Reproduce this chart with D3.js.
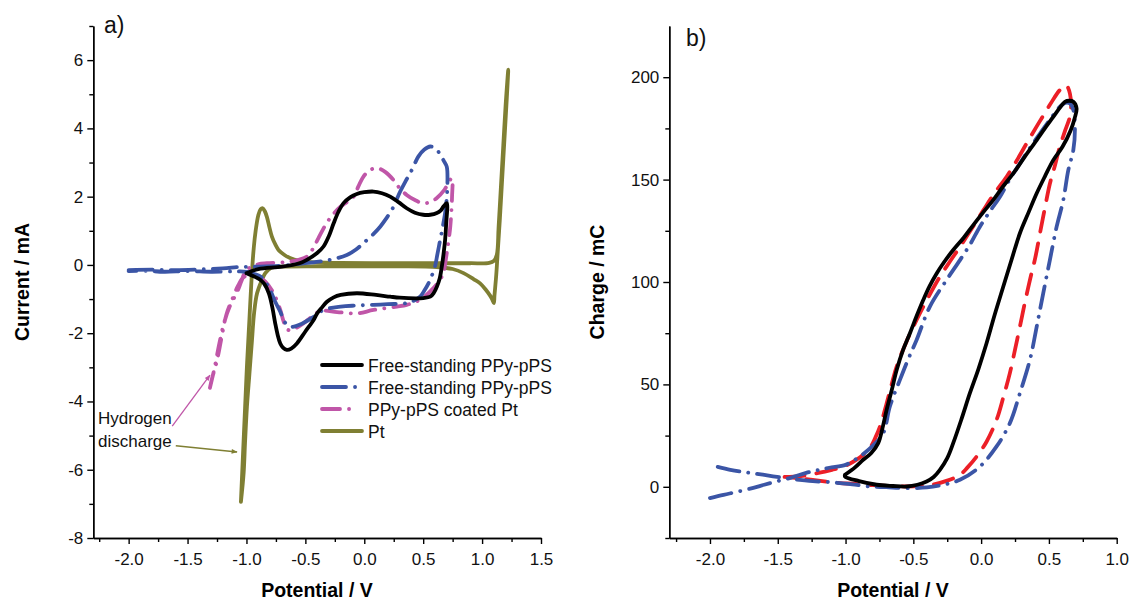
<!DOCTYPE html>
<html>
<head>
<meta charset="utf-8">
<script src="https://cdn.jsdelivr.net/npm/d3@7"></script>
<style>
  body { margin: 0; background: #fff; }
  svg { font-family: "Liberation Sans", Arial, sans-serif; }
  .axis path, .axis line { stroke: #000; stroke-width: 1.4; }
  .axis text { font-size: 17px; fill: #111; }
</style>
</head>
<body>
<svg id="chart" width="1131" height="600"></svg>
<script>
// ---- panel a) : cyclic voltammograms, [potential V, current mA] ----
const ptCurve = [
  [-1.047,-6.94],[-1.03,-5.6],[-1.012,-4.2],[-0.995,-2.9],[-0.975,-1.6],[-0.955,-0.3],[-0.938,0.5],
  [-0.922,1.0],[-0.9,1.45],[-0.88,1.63],[-0.862,1.66],[-0.845,1.58],[-0.826,1.4],[-0.805,1.1],
  [-0.784,0.83],[-0.755,0.6],[-0.728,0.44],[-0.68,0.3],[-0.63,0.2],[-0.55,0.12],[-0.45,0.08],
  [-0.2,0.06],[0.2,0.05],[0.6,0.05],[0.9,0.05],[1.06,0.06],[1.1,0.12],[1.125,0.3],[1.14,1.1],
  [1.16,2.3],[1.18,3.5],[1.2,4.7],[1.222,5.72],
  [1.21,4.9],[1.19,3.7],[1.17,2.5],[1.15,1.3],[1.135,0.5],[1.12,-0.3],[1.105,-0.9],[1.1,-1.12],
  [1.085,-1.0],[1.068,-0.9],[1.03,-0.72],[0.983,-0.54],[0.93,-0.42],[0.843,-0.24],[0.75,-0.12],
  [0.616,-0.06],[0.3,-0.04],[0.0,-0.04],[-0.4,-0.04],[-0.7,-0.05],[-0.79,-0.08],[-0.84,-0.24],
  [-0.87,-0.45],[-0.91,-0.83],[-0.935,-1.4],[-0.953,-2.2],[-0.975,-3.2],[-0.996,-4.16],
  [-1.012,-5.2],[-1.024,-6.1],[-1.047,-6.94]
];
const freeCurveA = [
  [-1.0,-0.24],[-0.9,-0.12],[-0.7,-0.05],[-0.55,0.05],[-0.487,0.15],[-0.4,0.35],[-0.346,0.54],
  [-0.3,0.85],[-0.26,1.22],[-0.22,1.55],[-0.176,1.81],[-0.12,1.98],[-0.063,2.08],[0.0,2.13],
  [0.078,2.15],[0.15,2.1],[0.22,2.0],[0.29,1.84],[0.36,1.66],[0.43,1.53],[0.5,1.47],[0.56,1.47],
  [0.616,1.52],[0.65,1.6],[0.672,1.71],[0.7,1.81],
  [0.695,1.2],[0.686,0.73],[0.672,0.3],[0.658,-0.05],[0.64,-0.4],[0.616,-0.64],[0.59,-0.82],
  [0.56,-0.93],[0.5,-0.97],[0.446,-0.98],[0.3,-0.96],[0.22,-0.93],[0.1,-0.88],[-0.063,-0.83],
  [-0.2,-0.88],[-0.26,-0.95],[-0.317,-1.08],[-0.36,-1.25],[-0.4,-1.42],[-0.43,-1.61],[-0.5,-1.95],
  [-0.572,-2.3],[-0.62,-2.45],[-0.657,-2.49],[-0.69,-2.42],[-0.713,-2.3],[-0.735,-2.05],
  [-0.756,-1.71],[-0.78,-1.25],[-0.81,-0.83],[-0.85,-0.55],[-0.88,-0.44],[-0.94,-0.33],[-1.0,-0.24]
];
const freeCurveB = [
  [-2.0,-0.15],[-1.8,-0.14],[-1.6,-0.15],[-1.4,-0.13],[-1.2,-0.1],[-1.05,-0.06],[-0.91,-0.05],
  [-0.7,-0.02],[-0.5,0.05],[-0.29,0.15],[-0.148,0.29],[-0.07,0.45],[-0.007,0.64],[0.07,0.88],
  [0.135,1.12],[0.19,1.38],[0.234,1.61],[0.27,1.88],[0.305,2.15],[0.35,2.45],[0.39,2.69],
  [0.43,2.98],[0.46,3.18],[0.51,3.38],[0.56,3.47],[0.61,3.4],[0.644,3.23],[0.675,3.05],
  [0.7,2.88],[0.706,2.4],
  [0.7,1.95],[0.686,1.52],[0.665,1.1],[0.644,0.73],[0.62,0.3],[0.6,-0.05],[0.575,-0.3],
  [0.545,-0.54],[0.51,-0.75],[0.474,-0.93],[0.42,-1.05],[0.36,-1.12],[0.2,-1.15],[0.078,-1.17],
  [-0.07,-1.19],[-0.2,-1.22],[-0.346,-1.32],[-0.43,-1.52],[-0.53,-1.72],[-0.63,-1.81],
  [-0.68,-1.65],[-0.713,-1.37],[-0.76,-1.05],[-0.8,-0.73],[-0.84,-0.5],[-0.88,-0.34],
  [-0.94,-0.26],[-0.996,-0.2],[-1.1,-0.19],[-1.3,-0.2],[-1.5,-0.18],[-1.7,-0.2],[-1.85,-0.17],
  [-2.0,-0.18]
];
const coatedPtCurve = [
  [-1.31,-3.6],[-1.27,-3.0],[-1.23,-2.3],[-1.19,-1.7],[-1.14,-1.2],[-1.08,-0.8],[-1.04,-0.45],
  [-1.0,-0.15],[-0.9,0.02],[-0.826,0.05],[-0.72,0.07],[-0.63,0.1],[-0.55,0.16],[-0.49,0.24],
  [-0.44,0.45],[-0.39,0.78],[-0.317,1.24],[-0.26,1.5],[-0.2,1.71],[-0.14,1.86],[-0.09,2.0],
  [-0.05,2.3],[-0.007,2.59],[0.05,2.78],[0.107,2.84],[0.18,2.72],[0.248,2.49],[0.3,2.25],
  [0.36,2.05],[0.43,1.9],[0.5,1.81],[0.56,1.84],[0.616,1.96],[0.68,2.2],[0.743,2.54],
  [0.745,2.0],[0.73,1.12],[0.715,0.7],[0.7,0.34],[0.685,0.0],[0.672,-0.24],[0.63,-0.5],
  [0.587,-0.68],[0.52,-0.9],[0.446,-1.07],[0.36,-1.17],[0.276,-1.22],[0.078,-1.32],
  [-0.063,-1.42],[-0.23,-1.38],[-0.37,-1.35],[-0.44,-1.5],[-0.515,-1.71],[-0.58,-1.85],
  [-0.643,-1.91],[-0.68,-1.7],[-0.713,-1.32],[-0.77,-0.83],[-0.84,-0.49],[-0.92,-0.3],
  [-1.02,-0.35],[-1.07,-0.6],[-1.12,-1.0],[-1.17,-1.45],[-1.21,-2.1],[-1.25,-2.8],[-1.29,-3.3],
  [-1.31,-3.6]
];

// ---- panel b) : charge curves, [potential V, charge mC] ----
const chargeBlack = [
  [-1.004,5.85],[-0.93,9.5],[-0.87,13.2],[-0.81,16.5],[-0.759,21.3],[-0.73,28],[-0.697,37.6],
  [-0.66,47],[-0.623,57],[-0.575,67],[-0.525,75],[-0.475,83.5],[-0.427,91.2],[-0.38,98],
  [-0.328,104.2],[-0.27,110],[-0.206,115.6],[-0.13,121.5],[-0.058,127.8],[0.015,134],[0.089,140],
  [0.16,146.5],[0.237,153],[0.32,161],[0.41,169.3],[0.47,175],[0.532,180.6],[0.58,185],
  [0.618,188],[0.65,188.5],[0.68,188],[0.704,184.7],[0.69,180],[0.66,174],[0.6,166],
  [0.532,159.5],[0.47,151.5],[0.41,143.3],[0.35,134],[0.286,123.8],[0.225,111],[0.163,97.7],
  [0.1,84],[0.04,70.1],[-0.02,57.5],[-0.083,45.7],[-0.145,33],[-0.206,21.3],[-0.25,14],
  [-0.304,8.3],[-0.35,4.8],[-0.402,2.6],[-0.47,1.0],[-0.55,0.15],[-0.65,0.4],[-0.77,1.0],
  [-0.9,2.8],[-1.004,5.0],[-1.004,5.85]
];
const chargeRed = [
  [-1.45,4.8],[-1.33,5.2],[-1.2,6.8],[-1.1,8.3],[-1.03,9.5],[-0.95,12],[-0.89,14.5],[-0.82,19],
  [-0.78,24],[-0.746,29.4],[-0.7,40],[-0.66,50],[-0.623,58.7],[-0.55,71],[-0.476,81.5],
  [-0.39,92.5],[-0.304,102.6],[-0.23,110],[-0.156,117.2],[-0.07,126],[0.016,135],[0.1,143.5],
  [0.188,151.4],[0.26,159],[0.336,167.7],[0.41,176],[0.483,183.9],[0.54,190],[0.58,193.7],
  [0.625,196.1],[0.655,192],[0.66,182.3],[0.62,174],[0.58,166],[0.545,157],[0.507,148],
  [0.47,136],[0.434,123.8],[0.4,112],[0.36,101],[0.323,90],[0.286,78.2],[0.25,67],[0.212,55.5],
  [0.165,44],[0.114,32.7],[0.04,22],[-0.033,14.8],[-0.1,9.5],[-0.156,5.85],[-0.25,3],
  [-0.35,1.2],[-0.5,0.2],[-0.65,0.3],[-0.8,0.8],[-0.95,1.5],[-1.04,1.8],[-1.2,3.0],
  [-1.35,4.2],[-1.45,4.8]
];
const chargeBlue = [
  [-2.0,-5.5],[-1.9,-3.9],[-1.79,-2.3],[-1.68,-0.5],[-1.6,1.0],[-1.51,2.6],[-1.4,4.5],
  [-1.29,6.8],[-1.2,8.2],[-1.12,9.3],[-1.0,10.7],[-0.95,12.5],[-0.894,14.8],[-0.8,20],
  [-0.722,26.2],[-0.673,39.2],[-0.599,52.2],[-0.54,62],[-0.476,71.7],[-0.378,88],[-0.255,101],
  [-0.156,110.7],[-0.08,118.5],[-0.009,127],[0.065,134.5],[0.139,141.6],[0.21,150],
  [0.286,157.9],[0.36,165.5],[0.434,172.5],[0.51,179.5],[0.58,185.5],[0.62,187.5],
  [0.655,187.2],[0.68,184],[0.692,175.8],[0.68,164.4],[0.643,154.6],[0.606,140],[0.557,127],
  [0.507,110.7],[0.458,94.5],[0.41,78.2],[0.36,62],[0.286,45.7],[0.212,31.1],[0.114,19.7],
  [-0.009,9.9],[-0.156,3.4],[-0.28,1.0],[-0.4,-0.3],[-0.55,-0.65],[-0.7,-0.2],[-0.82,0.15],
  [-0.95,1.2],[-1.04,1.8],[-1.12,2.3],[-1.22,2.6],[-1.34,3.4],[-1.46,4.4],[-1.61,5.9],
  [-1.73,7],[-1.85,8.3],[-2.0,10.7]
];

const legendLabels = ["Free-standing PPy-pPS", "Free-standing PPy-pPS", "PPy-pPS coated Pt", "Pt"];

const svg = d3.select("#chart");

function drawAxes(x, y, xMajor, xMinor, yMajor, yMinor, xFmt) {
  const h = y.range()[0], x0 = x.range()[0];
  svg.append("g").attr("class", "axis")
    .attr("transform", "translate(0," + h + ")")
    .call(d3.axisBottom(x).tickValues(xMinor).tickSize(4).tickFormat("").tickSizeOuter(0));
  svg.append("g").attr("class", "axis")
    .attr("transform", "translate(0," + h + ")")
    .call(d3.axisBottom(x).tickValues(xMajor).tickSize(6).tickPadding(9).tickFormat(xFmt).tickSizeOuter(0));
  svg.append("g").attr("class", "axis")
    .attr("transform", "translate(" + x0 + ",0)")
    .call(d3.axisLeft(y).tickValues(yMinor).tickSize(4).tickFormat("").tickSizeOuter(0));
  svg.append("g").attr("class", "axis")
    .attr("transform", "translate(" + x0 + ",0)")
    .call(d3.axisLeft(y).tickValues(yMajor).tickSize(6).tickPadding(4).tickFormat(d => d).tickSizeOuter(0));
}

function drawCurve(x, y, data, color, dash) {
  const line = d3.line()
    .x(d => x(d[0])).y(d => y(d[1]))
    .curve(d3.curveCatmullRom.alpha(0.5));
  svg.append("path")
    .datum(data)
    .attr("d", line)
    .attr("fill", "none")
    .attr("stroke", color)
    .attr("stroke-width", 3.8)
    .attr("stroke-linecap", "round")
    .attr("stroke-linejoin", "round")
    .attr("stroke-dasharray", dash || null);
}

const fmt1 = d => d.toFixed(1);
const blue = "#3b55a6", magenta = "#c056a8", olive = "#7f7f33", red = "#ec1f27";

// ---------------- panel a ----------------
const xa = d3.scaleLinear().domain([-2.3, 1.5]).range([93.3, 541]);
const ya = d3.scaleLinear().domain([-8, 7]).range([538, 26]);
drawAxes(xa, ya,
  d3.range(-2, 1.51, 0.5), d3.range(-2.25, 1.3, 0.5),
  d3.range(-8, 6.1, 2), d3.range(-7, 7.1, 2), fmt1);

drawCurve(xa, ya, ptCurve, olive);
drawCurve(xa, ya, coatedPtCurve, magenta, "16 9 0.1 9");
drawCurve(xa, ya, freeCurveB, blue, "24 9 0.1 9");
drawCurve(xa, ya, freeCurveA, "#000");

// legend
const legendY = d3.scaleLinear().domain([0, 3]).range([365, 431]);
const legendDash = [null, "24 9 0.1 9", "18 9 0.1 9", null];
const legendColor = ["#000", blue, magenta, olive];
legendLabels.forEach((t, i) => {
  svg.append("line")
    .attr("x1", 322).attr("x2", i === 1 ? 360 : (i === 2 ? 354 : 362))
    .attr("y1", legendY(i)).attr("y2", legendY(i))
    .attr("stroke", legendColor[i]).attr("stroke-width", 3.8)
    .attr("stroke-linecap", "round")
    .attr("stroke-dasharray", legendDash[i]);
  svg.append("text")
    .attr("x", 368).attr("y", legendY(i) + 6.5)
    .attr("font-size", 17.5).attr("fill", "#111")
    .text(t);
});

// annotation
svg.append("text").attr("x", 98).attr("y", 424).attr("font-size", 17).attr("fill", "#111").text("Hydrogen");
svg.append("text").attr("x", 98).attr("y", 447).attr("font-size", 17).attr("fill", "#111").text("discharge");
const defs = svg.append("defs");
[["arrM", magenta], ["arrO", olive]].forEach(([id, c]) => {
  defs.append("marker").attr("id", id).attr("viewBox", "0 0 10 10")
    .attr("refX", 9).attr("refY", 5).attr("markerWidth", 7).attr("markerHeight", 6)
    .attr("orient", "auto").attr("markerUnits", "userSpaceOnUse")
    .append("path").attr("d", "M0,1 L10,5 L0,9 Z").attr("fill", c);
});
svg.append("line").attr("x1", xa(-1.63)).attr("y1", ya(-4.72)).attr("x2", xa(-1.31)).attr("y2", ya(-3.23))
  .attr("stroke", magenta).attr("stroke-width", 1.3).attr("marker-end", "url(#arrM)");
svg.append("line").attr("x1", xa(-1.6)).attr("y1", ya(-5.3)).attr("x2", xa(-1.08)).attr("y2", ya(-5.48))
  .attr("stroke", olive).attr("stroke-width", 1.5).attr("marker-end", "url(#arrO)");

svg.append("text").attr("x", 104).attr("y", 33).attr("font-size", 23).attr("fill", "#111").text("a)");
svg.append("text").attr("transform", "translate(29,282) rotate(-90)")
  .attr("text-anchor", "middle").attr("font-size", 19.5).attr("font-weight", "bold").text("Current / mA");
svg.append("text").attr("x", 317).attr("y", 597)
  .attr("text-anchor", "middle").attr("font-size", 19.5).attr("font-weight", "bold").text("Potential / V");

// ---------------- panel b ----------------
const xb = d3.scaleLinear().domain([-2.3, 1.0]).range([669.3, 1116.7]);
const yb = d3.scaleLinear().domain([-25, 225]).range([538, 26]);
drawAxes(xb, yb,
  d3.range(-2, 1.01, 0.5), d3.range(-2.25, 0.8, 0.5),
  d3.range(0, 201, 50), [-25, 25, 75, 125, 175], fmt1);

drawCurve(xb, yb, chargeRed, red, "20 12");
drawCurve(xb, yb, chargeBlue, blue, "22 9 0.1 9");
drawCurve(xb, yb, chargeBlack, "#000");

svg.append("text").attr("x", 686).attr("y", 46).attr("font-size", 23).attr("fill", "#111").text("b)");
svg.append("text").attr("transform", "translate(604,282) rotate(-90)")
  .attr("text-anchor", "middle").attr("font-size", 19.5).attr("font-weight", "bold").text("Charge / mC");
svg.append("text").attr("x", 893).attr("y", 597)
  .attr("text-anchor", "middle").attr("font-size", 19.5).attr("font-weight", "bold").text("Potential / V");
</script>
</body>
</html>
